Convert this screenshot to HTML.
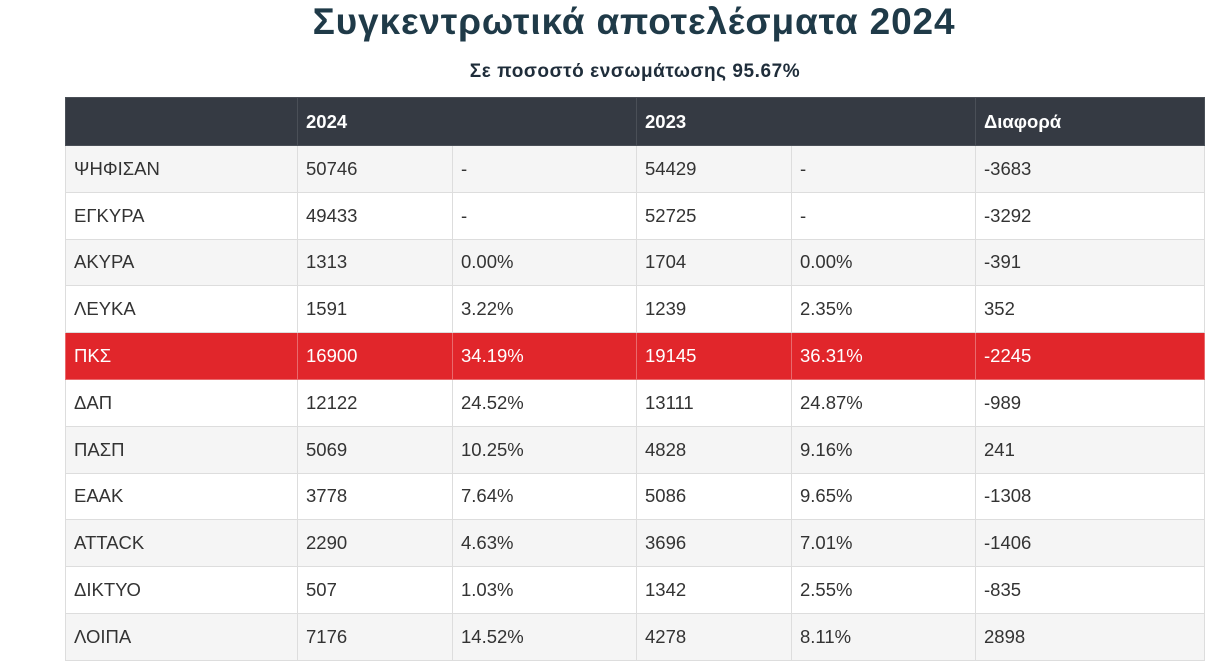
<!DOCTYPE html>
<html><head><meta charset="utf-8"><style>
body{margin:0;width:1224px;height:665px;background:#fff;font-family:"Liberation Sans","DejaVu Sans",sans-serif;overflow:hidden;position:relative}
h1{position:absolute;top:1px;left:22px;width:1224px;text-align:center;margin:0;font-size:37px;font-weight:bold;color:#1f3a48;letter-spacing:0.85px}
.sub{position:absolute;top:61px;left:23px;width:1224px;text-align:center;font-size:19px;font-weight:bold;color:#1f2d3a;letter-spacing:0.55px}
table{position:absolute;left:65px;top:97px;border-collapse:collapse;width:1139px;table-layout:fixed;font-size:18.5px;color:#333}
td,th{border:1px solid #ddd;padding:0 8px;text-align:left;height:46.8px;box-sizing:border-box}
th{background:#353a43;color:#fff;font-weight:bold;height:48px;border-color:#4a4f57}
tr:nth-child(odd) td{background:#f5f5f5}
tr.red td{background:#e1262b;color:#fff;border-color:#e96a6d}
</style></head><body>
<h1>Συγκεντρωτικά αποτελέσματα 2024</h1>
<div class="sub">Σε ποσοστό ενσωμάτωσης 95.67%</div>
<table>
<colgroup><col style="width:232px"><col style="width:155px"><col style="width:184px"><col style="width:155px"><col style="width:184px"><col style="width:229px"></colgroup>
<thead><tr><th></th><th colspan="2">2024</th><th colspan="2">2023</th><th>Διαφορά</th></tr></thead>
<tbody>
<tr><td>ΨΗΦΙΣΑΝ</td><td>50746</td><td>-</td><td>54429</td><td>-</td><td>-3683</td></tr>
<tr><td>ΕΓΚΥΡΑ</td><td>49433</td><td>-</td><td>52725</td><td>-</td><td>-3292</td></tr>
<tr><td>ΑΚΥΡΑ</td><td>1313</td><td>0.00%</td><td>1704</td><td>0.00%</td><td>-391</td></tr>
<tr><td>ΛΕΥΚΑ</td><td>1591</td><td>3.22%</td><td>1239</td><td>2.35%</td><td>352</td></tr>
<tr class="red"><td>ΠΚΣ</td><td>16900</td><td>34.19%</td><td>19145</td><td>36.31%</td><td>-2245</td></tr>
<tr><td>ΔΑΠ</td><td>12122</td><td>24.52%</td><td>13111</td><td>24.87%</td><td>-989</td></tr>
<tr><td>ΠΑΣΠ</td><td>5069</td><td>10.25%</td><td>4828</td><td>9.16%</td><td>241</td></tr>
<tr><td>ΕΑΑΚ</td><td>3778</td><td>7.64%</td><td>5086</td><td>9.65%</td><td>-1308</td></tr>
<tr><td>ATTACK</td><td>2290</td><td>4.63%</td><td>3696</td><td>7.01%</td><td>-1406</td></tr>
<tr><td>ΔΙΚΤΥΟ</td><td>507</td><td>1.03%</td><td>1342</td><td>2.55%</td><td>-835</td></tr>
<tr><td>ΛΟΙΠΑ</td><td>7176</td><td>14.52%</td><td>4278</td><td>8.11%</td><td>2898</td></tr>
</tbody></table>
</body></html>
